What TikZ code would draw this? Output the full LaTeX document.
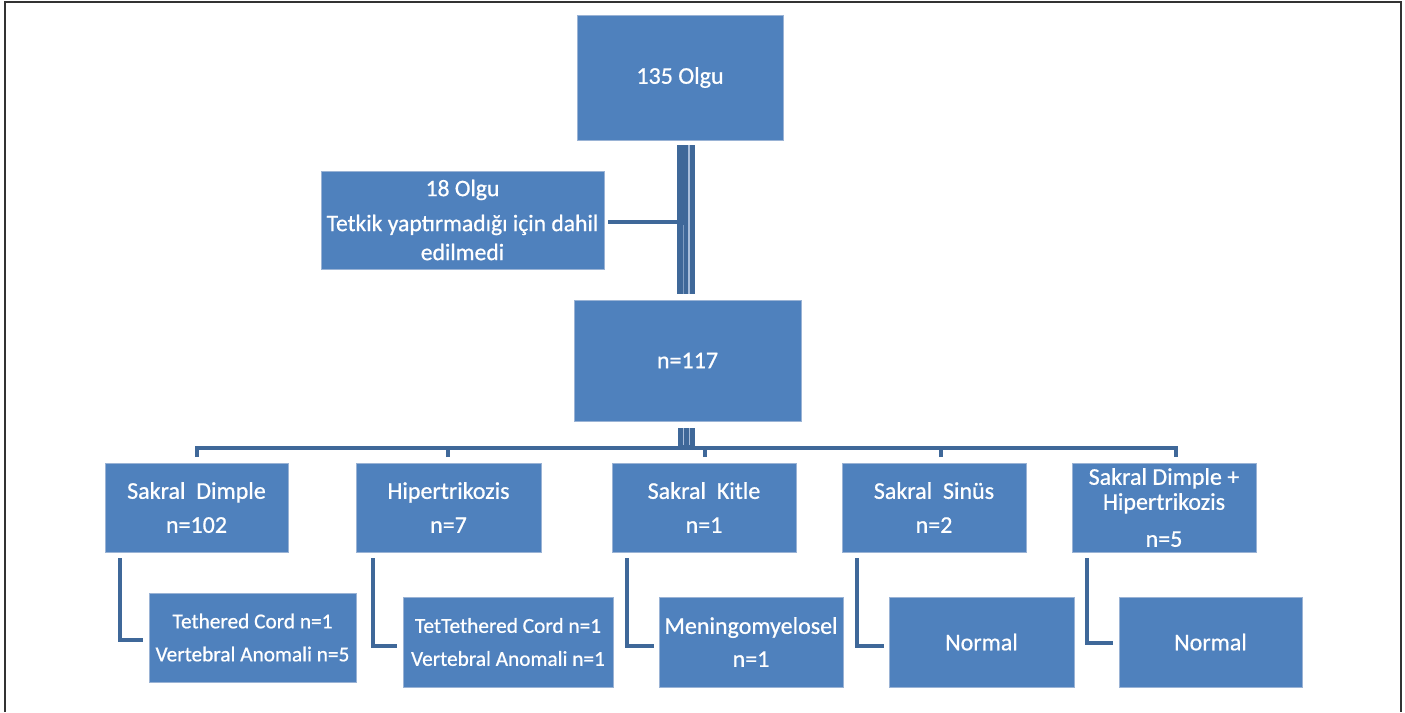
\documentclass[tikz,border=0pt]{standalone}
\usepackage{fontspec}
\setmainfont{Carlito}
\newfontfamily\boxfont{Carlito}[FakeBold=0.7]
\usetikzlibrary{calc}
\definecolor{boxblue}{HTML}{4F81BD}
\definecolor{linkblue}{HTML}{3F6899}
\definecolor{boxedge}{HTML}{9AB3D5}
\definecolor{sepblue}{HTML}{A9BEDB}
\begin{document}
\begin{tikzpicture}[x=1pt,y=-1pt,
  box/.style={fill=boxblue, draw=boxedge, line width=0.6pt, text=white, align=center, inner sep=0pt,
    font=\boxfont\fontsize{24}{34}\selectfont},
  smalltext/.style={font=\boxfont\fontsize{21.3}{33}\selectfont},
  conn/.style={draw=linkblue, line width=4pt},
  sepline/.style={draw=sepblue, line width=1.6pt},
  frame/.style={draw=black!80, line width=1.5pt}]
\useasboundingbox (0,0) rectangle (1405,712);
\draw[frame] (5,712) -- (5,2) -- (1401,2) -- (1401,712);

% main boxes
\node[box, minimum width=206pt, minimum height=125pt] (top) at (680,77.5) {135 Olgu};
\node[box, minimum width=283pt, minimum height=98pt, font=\boxfont\fontsize{23.6}{29}\selectfont] (excl) at (462.5,220)
  {18 Olgu\\[6pt]Tetkik yaptırmadığı için dahil\\edilmedi};
\node[box, minimum width=227pt, minimum height=121pt] (mid) at (687.5,360.5) {n=117};

% children
\node[box, minimum width=183pt, minimum height=89pt] (c1) at (196.5,507.5) {Sakral\ \ Dimple\\n=102};
\node[box, minimum width=185pt, minimum height=89pt] (c2) at (448.5,507.5) {Hipertrikozis\\n=7};
\node[box, minimum width=184pt, minimum height=89pt] (c3) at (704,507.5) {Sakral\ \ Kitle\\n=1};
\node[box, minimum width=184pt, minimum height=89pt] (c4) at (934,507.5) {Sakral\ \ Sinüs\\n=2};
\node[box, minimum width=184pt, minimum height=89pt, font=\boxfont\fontsize{24}{25}\selectfont] (c5) at (1164,507.5)
  {Sakral Dimple +\\Hipertrikozis\\[12pt]n=5};

% grandchildren
\node[box, smalltext, minimum width=207pt, minimum height=89pt] (g1) at (252.5,637.5) {Tethered Cord n=1\\Vertebral Anomali n=5};
\node[box, smalltext, minimum width=210pt, minimum height=90pt] (g2) at (508,642) {TetTethered Cord n=1\\Vertebral Anomali n=1};
\node[box, minimum width=184pt, minimum height=90pt, font=\boxfont\fontsize{24}{33}\selectfont] (g3) at (751,642) {Meningomyelosel\\n=1};
\node[box, minimum width=185pt, minimum height=90pt] (g4) at (981.5,642) {Normal};
\node[box, minimum width=183pt, minimum height=90pt] (g5) at (1210.5,642) {Normal};

% trunk top -> mid
\fill[linkblue] ($(top.south)+(-3,5)$) rectangle ($(mid.north)+(7.5,-6)$);
\draw[sepline] ($(top.south)+(9,5)$) -- ($(mid.north)+(1.5,-6)$);
\draw[draw=sepblue!60!linkblue, line width=1pt] ($(top.south)+(3,85)$) -- ($(mid.north)+(-4.5,-6)$);
% excluded branch
\draw[conn] ([xshift=4pt,yshift=-2pt]excl.east) -- ++(70,0);

% trunk mid -> bus
\fill[linkblue] ($(mid.south)+(-9.5,7)$) rectangle ($(mid.south)+(7.5,25)$);
\draw[sepline, line width=1.3pt] ($(mid.south)+(-4,7)$) -- ($(mid.south)+(-4,24)$);
\draw[sepline, line width=1.3pt] ($(mid.south)+(2,7)$) -- ($(mid.south)+(2,24)$);

% bus
\coordinate (d1) at (197,457);
\coordinate (d2) at (448,457);
\coordinate (d3) at (705,457);
\coordinate (d4) at (941,457);
\coordinate (d5) at (1176,457);
\draw[conn] (d1) -- ++(0,-9) -| (d5);
\draw[conn] (d2) -- ++(0,-9);
\draw[conn] (d3) -- ++(0,-9);
\draw[conn] (d4) -- ++(0,-9);

% elbows
\draw[conn] ([xshift=15pt,yshift=-6pt]c1.south west) |- ([xshift=-6pt,yshift=-2.5pt]g1.west);
\draw[conn] ([xshift=17pt,yshift=-6pt]c2.south west) |- ([xshift=-6pt,yshift=-4pt]g2.west);
\draw[conn] ([xshift=15pt,yshift=-6pt]c3.south west) |- ([xshift=-5pt,yshift=-4pt]g3.west);
\draw[conn] ([xshift=15pt,yshift=-6pt]c4.south west) |- ([xshift=-5pt,yshift=-4pt]g4.west);
\draw[conn] ([xshift=15pt,yshift=-6pt]c5.south west) |- ([xshift=-6pt,yshift=-1pt]g5.west);
\end{tikzpicture}
\end{document}
